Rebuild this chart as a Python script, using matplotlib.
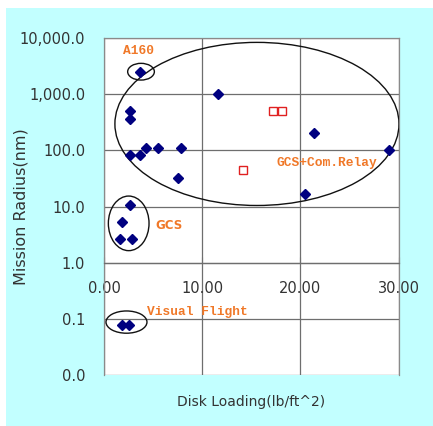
import matplotlib
matplotlib.use("Agg")
import matplotlib.pyplot as plt
from matplotlib.patches import Ellipse, Rectangle
from matplotlib.ticker import FixedLocator, FuncFormatter

# Data (disk loading lb/ft^2, mission radius nm)
diamond_x = [3.7, 2.65, 2.65, 2.6, 3.7, 4.3, 5.5, 7.8, 7.5, 11.6,
             21.4, 29.0, 20.5, 2.6, 1.85, 1.6, 2.8, 1.85, 2.5]
diamond_y = [2500, 500, 360, 82, 82, 112, 112, 112, 32, 1000,
             200, 100, 16.5, 10.7, 5.3, 2.65, 2.65, 0.078, 0.078]
square_x = [17.25, 18.1, 14.2]
square_y = [510, 510, 44]

x_ticks = [0, 10, 20, 30]
y_ticks = [0.01, 0.1, 1, 10, 100, 1000, 10000]

W, H = 433, 426
fig = plt.figure(figsize=(W / 100, H / 100), dpi=100, facecolor="white")
fig.patches.append(Rectangle((6 / W, 0), 1 - 6 / W, 1 - 8 / H, transform=fig.transFigure,
                             facecolor="#C2FFFF", edgecolor="none", zorder=-10))

ax = fig.add_axes([104 / W, 1 - 375 / H, 294.7 / W, 337 / H])
ax.set_facecolor("white")
ax.set_yscale("log")
ax.set_xlim(0, 30)
ax.set_ylim(0.01, 10000)

gridc = "#6e6e6e"
ax.xaxis.set_major_locator(FixedLocator(x_ticks))
ax.yaxis.set_major_locator(FixedLocator(y_ticks))
ax.yaxis.set_minor_locator(FixedLocator([]))
ax.xaxis.set_major_formatter(FuncFormatter(lambda v, p: f"{v:.2f}"))
ax.yaxis.set_major_formatter(FuncFormatter(lambda v, p: f"{v:,.1f}"))
ax.grid(True, color=gridc, linewidth=0.9)
ax.set_axisbelow(True)

for s in ["top", "right", "left"]:
    ax.spines[s].set_color("#8a8a8a")
    ax.spines[s].set_linewidth(0.9)
ax.spines["bottom"].set_position(("data", 1))
ax.spines["bottom"].set_color(gridc)
ax.spines["bottom"].set_linewidth(0.9)

txtc = "#333333"
ax.tick_params(axis="x", direction="in", length=4, color=gridc, pad=13.5,
               labelsize=10.5, labelcolor=txtc)
ax.tick_params(axis="y", length=0, pad=13.5, labelsize=10.5, labelcolor=txtc)

ax.plot(diamond_x, diamond_y, linestyle="none", marker="D", markersize=5,
        color="#000080", zorder=5)
ax.plot(square_x, square_y, linestyle="none", marker="s", markersize=6,
        markerfacecolor="white", markeredgecolor="#E02020", markeredgewidth=1.0, zorder=5)

ells = [((0.519, 0.745), 0.964, 0.484),
        ((0.1256, 0.900), 0.0906, 0.0496),
        ((0.0838, 0.450), 0.138, 0.162),
        ((0.0763, 0.157), 0.139, 0.066)]
for c, w, h in ells:
    ax.add_patch(Ellipse(c, w, h, transform=ax.transAxes, fill=False,
                         edgecolor="#111111", linewidth=1.0, zorder=4))

orange = "#F07828"
mono = dict(family=["Liberation Mono", "DejaVu Sans Mono"], fontweight="bold",
            fontsize=9.3, color=orange, va="center", ha="left", zorder=6)
ax.text(1.9, 5900, "A160", **mono)
ax.text(4.35, 0.135, "Visual Flight", **mono)
ax.text(17.6, 60, "GCS+Com.Relay", **mono)
ax.text(5.2, 4.6, "GCS", fontsize=8.5, color=orange, va="center", ha="left",
        fontweight="bold", zorder=6)

ax.set_xlabel("Disk Loading(lb/ft^2)", fontsize=10, color=txtc)
ax.xaxis.set_label_coords(0.5, -0.06)
ax.set_ylabel("Mission Radius(nm)", fontsize=11.5, color=txtc)
ax.yaxis.set_label_coords(-0.255, 0.5)

fig.savefig("out.png", dpi=100, facecolor="white")
